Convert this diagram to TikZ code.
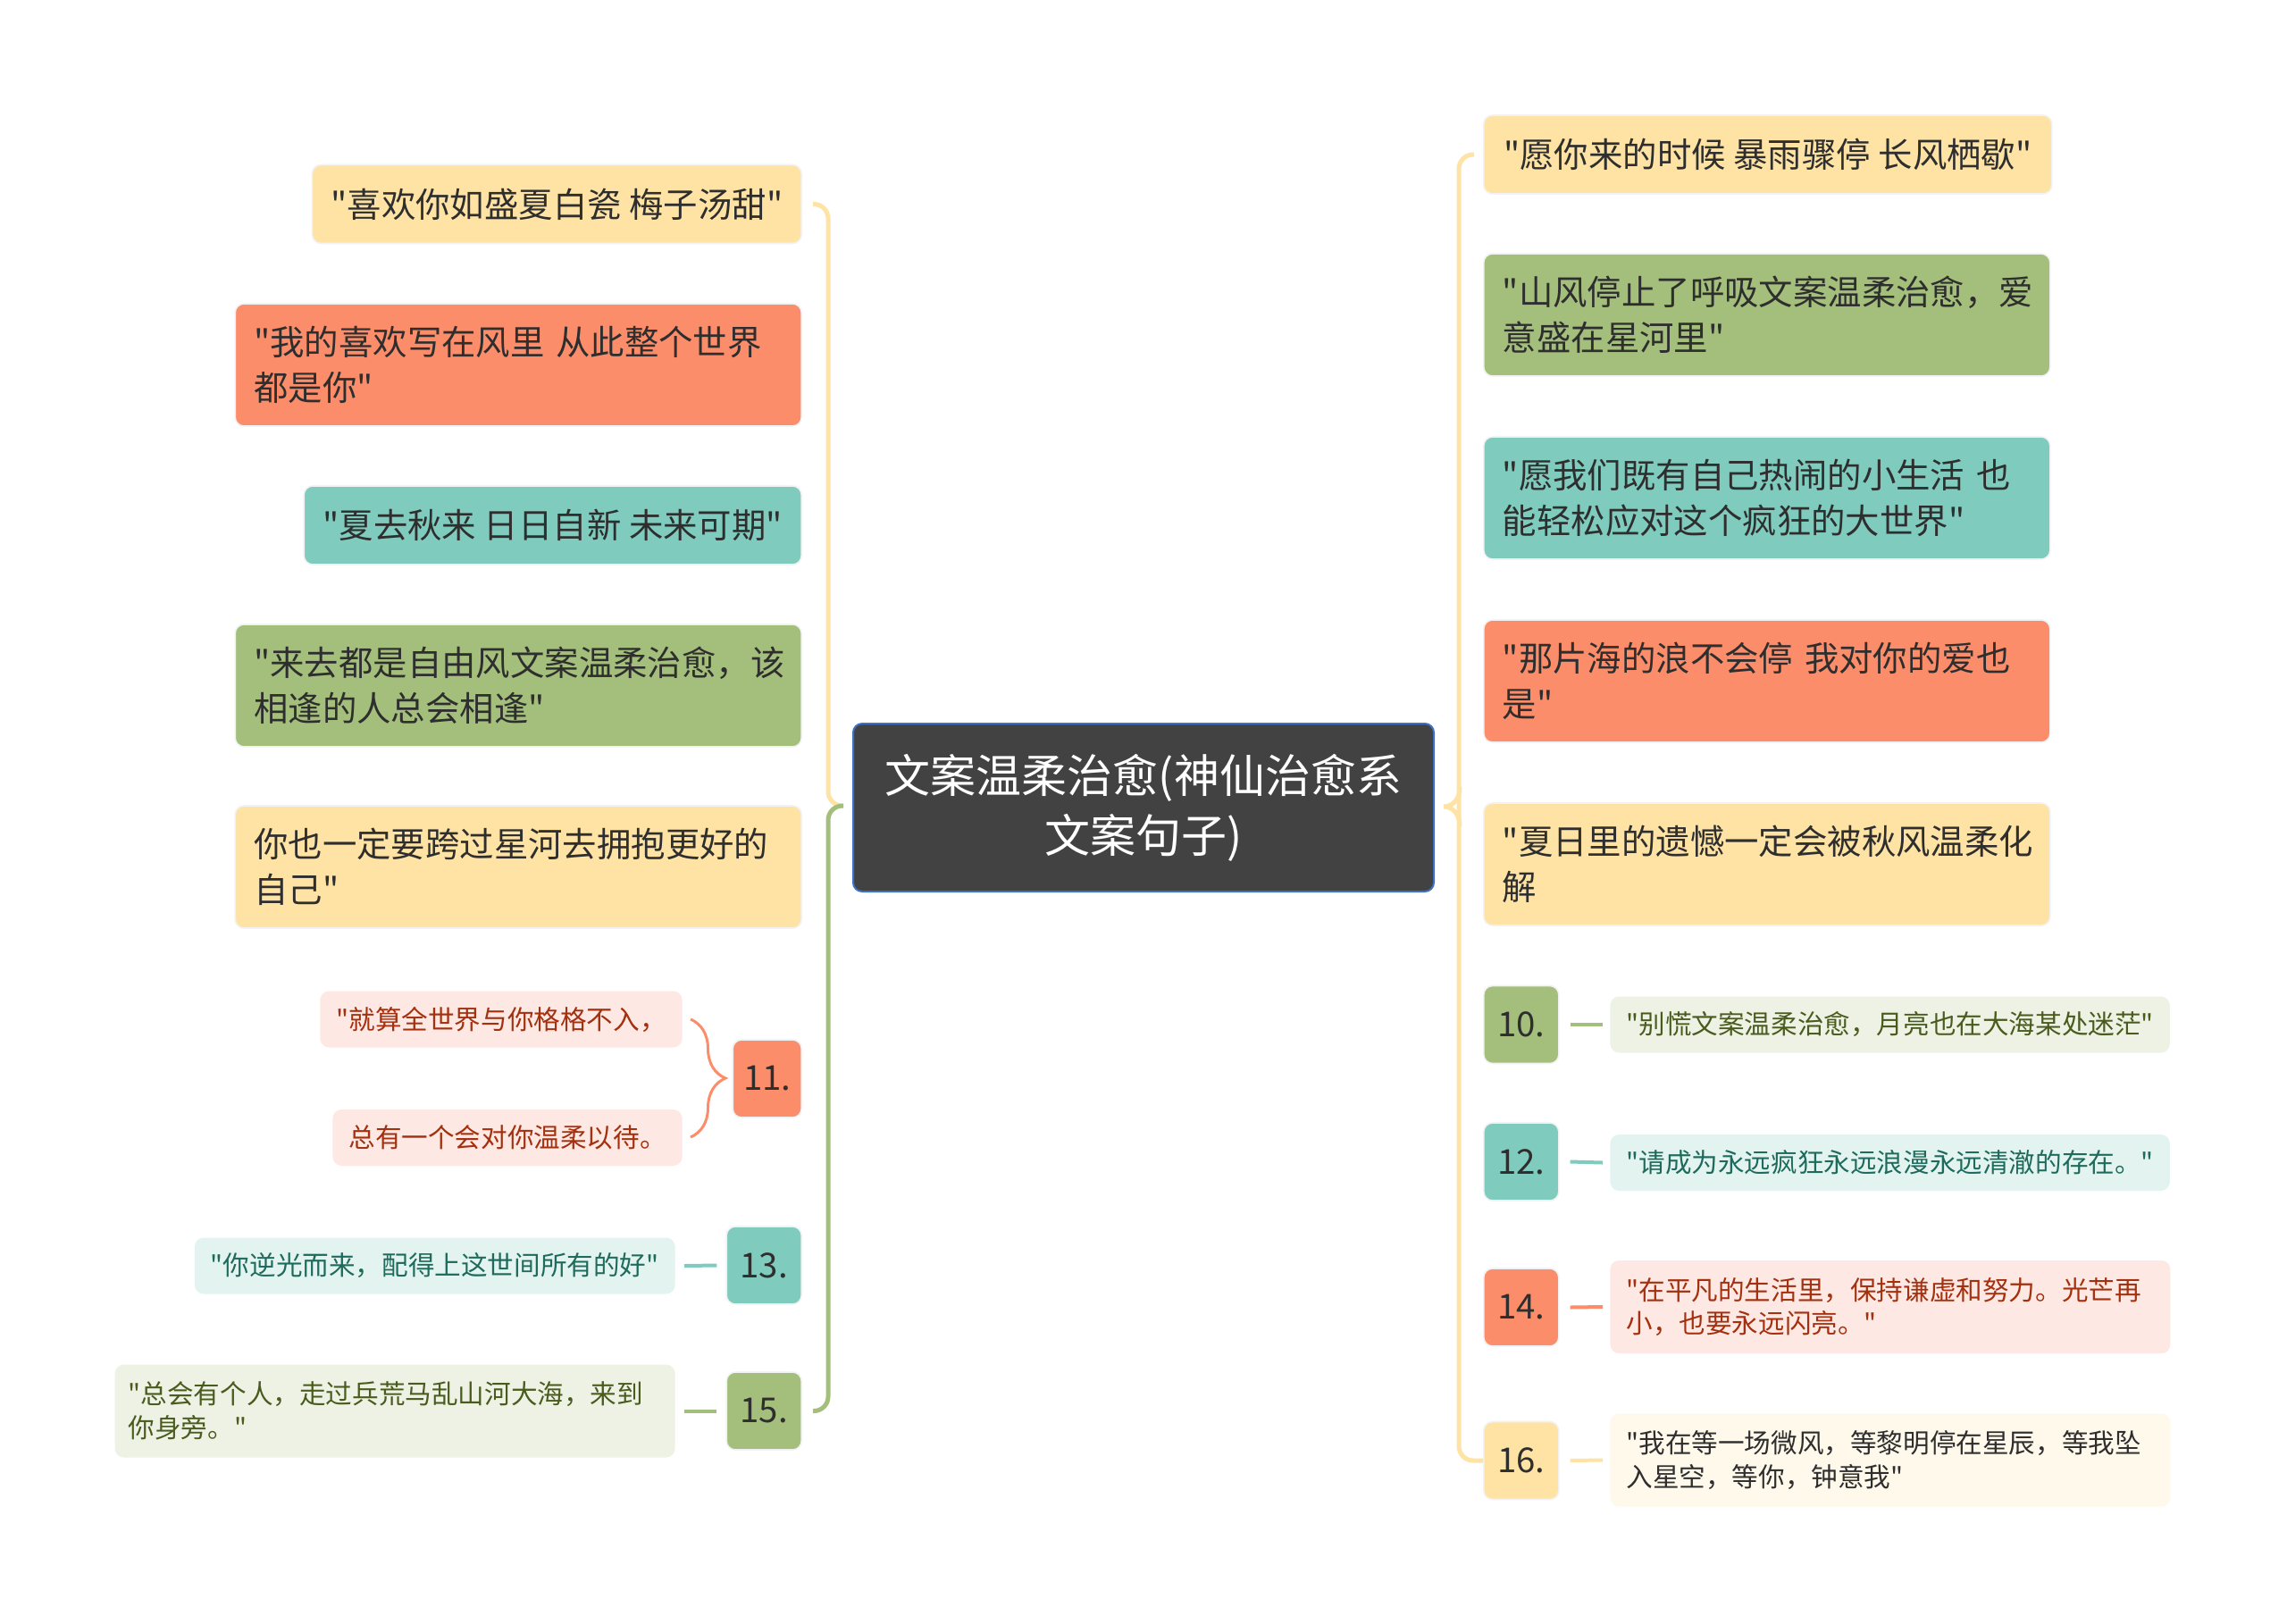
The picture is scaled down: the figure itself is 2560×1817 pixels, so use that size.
\documentclass[tikz,border=0pt]{standalone}
\usepackage{fontspec}
\newfontfamily\cjk{Noto Sans CJK SC}
\usepackage{tikz}
\usetikzlibrary{calc, decorations.pathreplacing}
\definecolor{ylw}{HTML}{FEE3A5}
\definecolor{slm}{HTML}{FC8D6A}
\definecolor{tea}{HTML}{7FCBBE}
\definecolor{olv}{HTML}{A4BF7C}
\definecolor{ylwlt}{HTML}{FEF9EA}
\definecolor{slmlt}{HTML}{FDE8E3}
\definecolor{tealt}{HTML}{E3F4F0}
\definecolor{olvlt}{HTML}{EEF2E5}
\definecolor{slmtx}{HTML}{A3300E}
\definecolor{teatx}{HTML}{1E6A5C}
\definecolor{olvtx}{HTML}{495C1E}
\definecolor{leaftx}{HTML}{2E2E2E}
\definecolor{ctrfill}{HTML}{424242}
\definecolor{ctrline}{HTML}{3B72C6}
\newcommand\bigfs{\cjk\fontsize{19.2pt}{25.5pt}\selectfont}
\newcommand\smallfs{\cjk\fontsize{14.8pt}{18.8pt}\selectfont}
\newcommand\ctrfs{\cjk\fontsize{25.5pt}{33.5pt}\selectfont}

\begin{document}
\begin{tikzpicture}[x=0.5pt, y=-0.5pt,
  leaf/.style={rounded corners=5pt, inner xsep=10.5pt, inner ysep=0pt,
    minimum height=44pt, font=\bigfs, text=leaftx, draw=black!5, line width=0.8pt},
  twoline/.style={text width=296pt, align=left, minimum height=68.5pt},
  numbox/.style={rounded corners=5pt, inner sep=0pt, minimum width=42pt,
    minimum height=43.5pt, font=\bigfs, text=leaftx, draw=black!5, line width=0.8pt},
  note/.style={rounded corners=5pt, inner xsep=9pt, inner ysep=0pt,
    minimum height=31.5pt, font=\smallfs},
  notetwo/.style={text width=295.5pt, align=left, minimum height=52pt},
  trunk/.style={draw=#1, line width=2.5pt, rounded corners=8pt},
  twig/.style={draw=#1, line width=2pt}]

\fill[white] (0,0) rectangle (2560,1817);
\useasboundingbox (0,0) rectangle (2560,1817);

% centre
\node[fill=ctrfill, draw=ctrline, line width=1pt, rounded corners=5pt, text=white,
  font=\ctrfs, align=center, minimum width=325pt, minimum height=94pt] (ctr) at (1280,904)
  {文案温柔治愈(神仙治愈系\\文案句子)};

% left side
\node[leaf, fill=ylw, anchor=east, minimum width=272pt] (l1) at (898,228.5) {"喜欢你如盛夏白瓷 梅子汤甜"};
\node[leaf, twoline, fill=slm, anchor=east] (l2) at (898,408.5) {"我的喜欢写在风里 从此整个世界\\都是你"};
\node[leaf, fill=tea, anchor=east, minimum width=278.5pt] (l3) at (898,588) {"夏去秋来 日日自新 未来可期"};
\node[leaf, twoline, fill=olv, anchor=east] (l4) at (898,767.5) {"来去都是自由风文案温柔治愈，该\\相逢的人总会相逢"};
\node[leaf, twoline, fill=ylw, anchor=east] (l5) at (898,970.5) {你也一定要跨过星河去拥抱更好的\\自己"};

\node[numbox, fill=slm, anchor=east, minimum width=38.5pt] (n11) at (898,1207.5) {11.};
\node[numbox, fill=tea, anchor=east] (n13) at (898,1416.5) {13.};
\node[numbox, fill=olv, anchor=east] (n15) at (898,1579.5) {15.};

\node[note, fill=slmlt, text=slmtx, anchor=east, minimum width=201pt] (c11a) at (764,1141) {"就算全世界与你格格不入，};
\node[note, fill=slmlt, text=slmtx, anchor=east, minimum width=193.5pt] (c11b) at (764,1273.5) {总有一个会对你温柔以待。};
\node[note, fill=tealt, text=teatx, anchor=east, minimum width=266pt] (c13) at (756,1417) {"你逆光而来，配得上这世间所有的好"};
\node[note, notetwo, fill=olvlt, text=olvtx, anchor=east, inner xsep=7.5pt, text width=298.5pt] (c15) at (756,1579.5)
  {"总会有个人，走过兵荒马乱山河大海，来到\\你身旁。"};

% right side
\node[leaf, fill=ylw, anchor=west, minimum width=318pt] (r1) at (1660,173) {"愿你来的时候 暴雨骤停 长风栖歇"};
\node[leaf, twoline, fill=olv, anchor=west] (r2) at (1660,352.5) {"山风停止了呼吸文案温柔治愈，爱\\意盛在星河里"};
\node[leaf, twoline, fill=tea, anchor=west] (r3) at (1660,557.5) {"愿我们既有自己热闹的小生活 也\\能轻松应对这个疯狂的大世界"};
\node[leaf, twoline, fill=slm, anchor=west] (r4) at (1660,762.5) {"那片海的浪不会停 我对你的爱也\\是"};
\node[leaf, twoline, fill=ylw, anchor=west] (r5) at (1660,967.5) {"夏日里的遗憾一定会被秋风温柔化\\解};

\node[numbox, fill=olv, anchor=west] (n10) at (1660,1147) {10.};
\node[numbox, fill=tea, anchor=west] (n12) at (1660,1300.5) {12.};
\node[numbox, fill=slm, anchor=west] (n14) at (1660,1463.5) {14.};
\node[numbox, fill=ylw, anchor=west] (n16) at (1660,1635) {16.};

\node[note, fill=olvlt, text=olvtx, anchor=west, minimum width=312pt] (c10) at (1802,1147) {"别慌文案温柔治愈，月亮也在大海某处迷茫"};
\node[note, fill=tealt, text=teatx, anchor=west, minimum width=312pt] (c12) at (1802,1301.5) {"请成为永远疯狂永远浪漫永远清澈的存在。"};
\node[note, notetwo, fill=slmlt, text=slmtx, anchor=west] (c14) at (1802,1463) {"在平凡的生活里，保持谦虚和努力。光芒再\\小，也要永远闪亮。"};
\node[note, notetwo, fill=ylwlt, text=leaftx, anchor=west] (c16) at (1802,1634.5) {"我在等一场微风，等黎明停在星辰，等我坠\\入星空，等你，钟意我"};

% trunks
\coordinate (lx) at (927,0);
\coordinate (rx) at (1633,0);
\coordinate (lj) at ($(ctr.west)+(-10,-2)$);
\coordinate (rj) at ($(ctr.east)+(10,-1)$);

\draw[trunk=ylw] (lj) -- (lj -| lx) -- (l1 -| lx) -- ($(l1.east)+(12,0)$);
\draw[trunk=olv] (lj) -- (lj -| lx) -- (n15 -| lx) -- ($(n15.east)+(12,0)$);
\draw[trunk=ylw] ($(r1.west)+(-10,0)$) -- (r1 -| rx) -- (n16 -| rx) -- (n16.west);
\draw[draw=ylw, line width=2.5pt] ($(rj)+(18,-22)$) .. controls ($(rj)+(18,-6)$) and ($(rj)+(8,0)$) .. (rj)
  .. controls ($(rj)+(8,0)$) and ($(rj)+(18,6)$) .. ($(rj)+(18,22)$);

% twigs
\draw[draw=slm, line width=1.5pt, decorate, decoration={brace, amplitude=19.5pt}]
  ($(c11a.east)+(9,0)$) -- ($(c11b.east)+(9,-0.5)$);
\draw[twig=tea] ($(c13.east)+(10,0)$) -- ($(n13.west)+(-10,0)$);
\draw[twig=olv] ($(c15.east)+(10,0)$) -- ($(n15.west)+(-10,0)$);
\draw[twig=olv] ($(n10.east)+(12,0)$) -- ($(c10.west)+(-8,0)$);
\draw[twig=tea] ($(n12.east)+(12,0)$) -- ($(c12.west)+(-8,0)$);
\draw[twig=slm] ($(n14.east)+(12,0)$) -- ($(c14.west)+(-8,0)$);
\draw[twig=ylw] ($(n16.east)+(12,0)$) -- ($(c16.west)+(-8,0)$);

\end{tikzpicture}
\end{document}
